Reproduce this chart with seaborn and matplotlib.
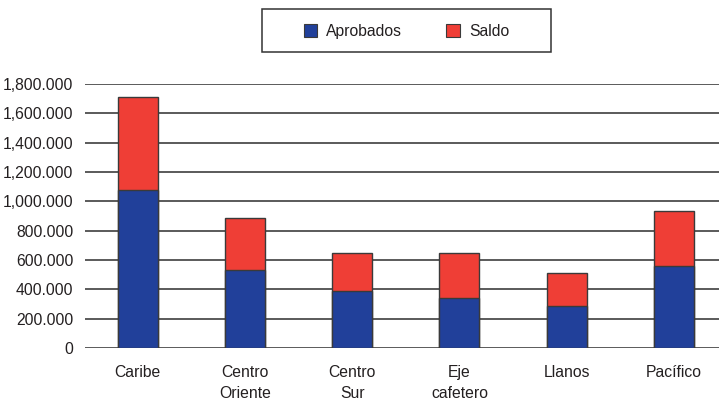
import matplotlib
matplotlib.use("Agg")
import matplotlib.pyplot as plt
from matplotlib.patches import Patch, Rectangle
import numpy as np
import pandas as pd
import seaborn as sns

regiones = ["Caribe", "Centro\nOriente", "Centro\nSur", "Eje\ncafetero", "Llanos", "Pacífico"]
aprobados = [1075000, 532000, 389000, 341000, 286000, 559000]
saldo = [635000, 355000, 260000, 308000, 226000, 376000]
y_ticks = [0, 200000, 400000, 600000, 800000, 1000000, 1200000, 1400000, 1600000, 1800000]
y_labels = ["0", "200.000", "400.000", "600.000", "800.000", "1,000.000",
            "1,200.000", "1,400.000", "1,600.000", "1,800.000"]

AZUL = "#21409A"
ROJO = "#EF3E36"
BORDE = "#3a3a3a"
TEXTO = "#231F20"

sns.set_theme(style="white")
plt.rcParams["font.family"] = ["Liberation Sans", "DejaVu Sans"]

df = pd.DataFrame({
    "region": regiones,
    "aprobados": aprobados,
    "total": np.array(aprobados) + np.array(saldo),
})

fig = plt.figure(figsize=(7.19, 4.0), dpi=100)
ax = fig.add_axes([85 / 719, 52 / 400, (719 - 85) / 719, (348 - 84) / 400])

# total (Saldo stacked over Aprobados) first, then Aprobados in front
sns.barplot(data=df, x="region", y="total", color=ROJO, saturation=1,
            width=0.373, edgecolor=BORDE, linewidth=1, ax=ax, zorder=3)
sns.barplot(data=df, x="region", y="aprobados", color=AZUL, saturation=1,
            width=0.373, edgecolor=BORDE, linewidth=1, ax=ax, zorder=4)

ax.set_xlim(-0.49, 5.42)
ax.set_ylim(0, 1800000)
ax.set_yticks(y_ticks)
ax.set_yticklabels(y_labels)
ax.set_xlabel("")
ax.set_ylabel("")
ax.tick_params(axis="y", length=0, pad=8.2, labelsize=11.3, labelcolor=TEXTO)
ax.tick_params(axis="x", length=0, pad=12.5, labelsize=11.3, labelcolor=TEXTO)
for lbl in ax.get_xticklabels():
    lbl.set_linespacing(1.45)

ax.set_axisbelow(True)
ax.yaxis.grid(True, color="#2e2e2e", linewidth=1.1)
for s in ax.spines.values():
    s.set_visible(False)

# legend box at the top
fig.patches.append(Rectangle((262 / 719, (400 - 52) / 400), 289 / 719, 43 / 400,
                             transform=fig.transFigure, fill=False,
                             edgecolor="#333333", linewidth=1.1))
handles = [Patch(facecolor=AZUL, edgecolor=BORDE, linewidth=0.8, label="Aprobados"),
           Patch(facecolor=ROJO, edgecolor=BORDE, linewidth=0.8, label="Saldo")]
fig.legend(handles=handles, loc="center", bbox_to_anchor=(406.5 / 719, 0.922),
           ncol=2, frameon=False, fontsize=11.3, handlelength=0.85, handleheight=0.85,
           handletextpad=0.59, columnspacing=2.8, borderpad=0, labelcolor=TEXTO)

fig.savefig("out.png", dpi=100)
